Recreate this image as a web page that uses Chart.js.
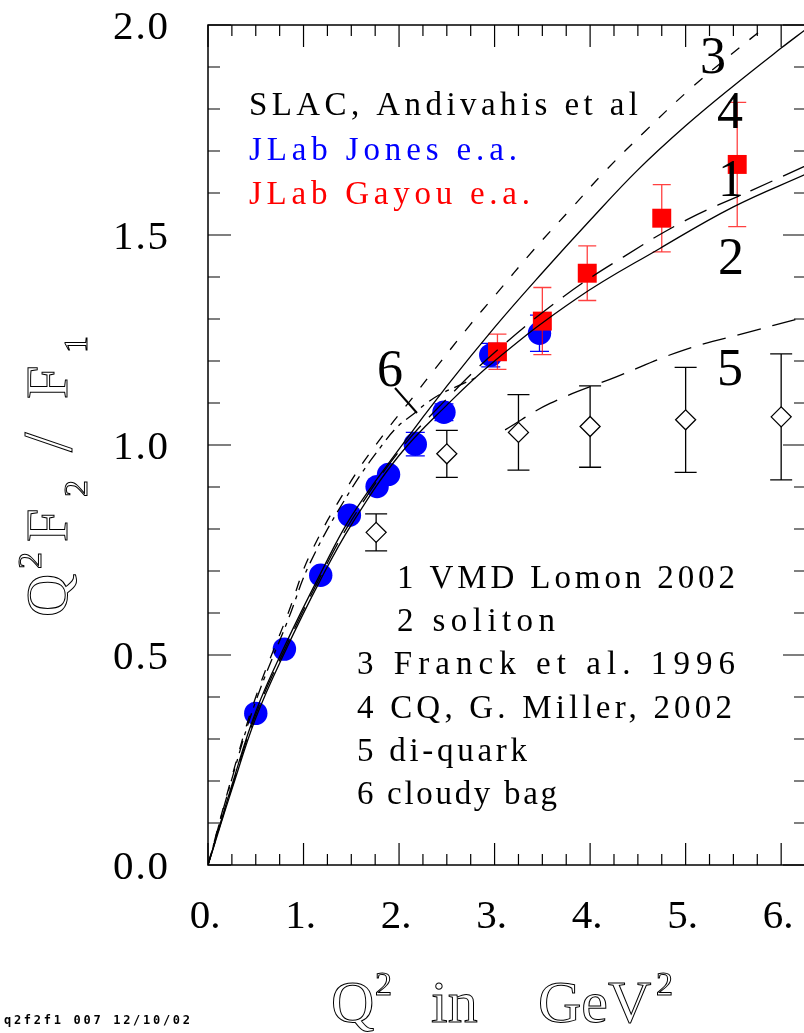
<!DOCTYPE html>
<html>
<head>
<meta charset="utf-8">
<script src="https://cdn.jsdelivr.net/npm/chart.js@4.4.1/dist/chart.umd.min.js"></script>
<style>
  html, body { margin: 0; padding: 0; background: #fff; overflow: hidden; }
  canvas { display: block; }
</style>
</head>
<body>
<canvas id="chart" width="810" height="1033"></canvas>
<script>
// SLAC, Andivahis et al (open diamonds)
const slacQ2 = [1.76, 2.50, 3.25, 4.00, 5.00, 6.00];
const slacVal = [0.792, 0.979, 1.030, 1.044, 1.060, 1.067];
const slacErr = [0.044, 0.056, 0.090, 0.097, 0.125, 0.150];

// JLab Jones e.a. (blue circles)
const jonesQ2 = [0.50, 0.80, 1.18, 1.48, 1.77, 1.89, 2.17, 2.47, 2.96, 3.47];
const jonesVal = [0.361, 0.514, 0.690, 0.833, 0.901, 0.930, 1.002, 1.078, 1.214, 1.266];
const jonesErr = [0.010, 0.010, 0.010, 0.012, 0.012, 0.012, 0.028, 0.020, 0.028, 0.043];

// JLab Gayou e.a. (red squares)
const gayouQ2 = [3.03, 3.50, 3.97, 4.75, 5.54];
const gayouVal = [1.222, 1.295, 1.409, 1.540, 1.668];
const gayouErr = [0.042, 0.080, 0.065, 0.080, 0.148];

// model curves
const vmdQ2 = [0, 0.25, 0.5, 0.8, 1.18, 1.5, 2.0, 2.5, 3.0, 3.72, 4.35, 5.01, 5.68, 6.26];
const vmdVal = [0, 0.185, 0.358, 0.512, 0.688, 0.82, 0.985, 1.11, 1.22, 1.353, 1.448, 1.536, 1.605, 1.665];
const solitonQ2 = [0, 0.25, 0.5, 0.8, 1.18, 1.5, 2.0, 2.5, 3.0, 3.86, 4.73, 5.5, 6.26];
const solitonVal = [0, 0.18, 0.35, 0.505, 0.68, 0.81, 0.975, 1.095, 1.2, 1.349, 1.468, 1.567, 1.645];
const franckQ2 = [0, 0.25, 0.5, 0.84, 1.07, 1.5, 1.87, 2.15, 2.32, 2.74, 3.0, 3.41, 3.79, 4.17, 4.59, 5.01, 5.45, 5.86];
const franckVal = [0, 0.21, 0.40, 0.60, 0.74, 0.915, 1.035, 1.115, 1.165, 1.285, 1.355, 1.465, 1.56, 1.655, 1.75, 1.84, 1.925, 2.0];
const millerQ2 = [0, 0.25, 0.5, 0.8, 1.18, 1.5, 2.0, 2.5, 3.0, 3.5, 4.0, 4.5, 5.0, 5.5, 6.0, 6.26];
const millerVal = [0, 0.19, 0.365, 0.52, 0.695, 0.83, 0.99, 1.14, 1.28, 1.41, 1.535, 1.655, 1.76, 1.855, 1.945, 1.99];
const diquarkQ2 = [3.11, 3.58, 4.28, 4.98, 5.68, 6.16, 6.26];
const diquarkVal = [1.036, 1.099, 1.163, 1.226, 1.270, 1.299, 1.304];
const bagQ2 = [0, 0.25, 0.5, 0.84, 1.07, 1.5, 1.84, 1.99, 2.13, 2.29, 2.44, 2.66, 2.85];
const bagVal = [0, 0.205, 0.39, 0.585, 0.72, 0.895, 1.005, 1.045, 1.07, 1.10, 1.122, 1.145, 1.165];

// axis ticks
const xTickLabels = ['0.', '1.', '2.', '3.', '4.', '5.', '6.'];
const yTickLabels = ['0.0', '0.5', '1.0', '1.5', '2.0'];

const legendLines = ['SLAC, Andivahis et al', 'JLab Jones e.a.', 'JLab Gayou e.a.'];
const modelLines = ['1 VMD Lomon 2002', '2 soliton', '3 Franck et al. 1996',
  '4 CQ, G. Miller, 2002', '5 di-quark', '6 cloudy bag'];

const SERIF = '"Liberation Serif", "DejaVu Serif", serif';

const toXY = (qs, vs) => qs.map((q, i) => ({ x: q, y: vs[i] }));

function curve(label, qs, vs, dash) {
  return {
    label, data: toXY(qs, vs), showLine: true, borderColor: '#000', borderWidth: 1.3,
    borderDash: dash, pointRadius: 0, fill: false, tension: 0.4
  };
}

// draw text stretched to a given width with letter spacing
function spaced(ctx, str, x, y, w, font, color) {
  ctx.font = font;
  ctx.letterSpacing = '0px';
  const nat = ctx.measureText(str).width;
  ctx.letterSpacing = ((w - nat) / Math.max(1, str.length - 1)) + 'px';
  ctx.fillStyle = color;
  ctx.textAlign = 'left';
  ctx.textBaseline = 'alphabetic';
  ctx.fillText(str, x, y);
  ctx.letterSpacing = '0px';
}

function hollow(ctx, str, x, y, size) {
  ctx.font = size + 'px ' + SERIF;
  ctx.lineWidth = 1;
  ctx.strokeStyle = '#000';
  ctx.strokeText(str, x, y);
}

const errorBars = {
  id: 'errorBars',
  beforeDatasetDraw(chart, args) {
    const ds = chart.data.datasets[args.index];
    if (!ds.err) return;
    const { ctx, scales: { x, y } } = chart;
    ctx.save();
    ctx.strokeStyle = ds.errColor;
    ctx.lineWidth = 1.3;
    ds.data.forEach((p, i) => {
      const px = x.getPixelForValue(p.x);
      const lo = y.getPixelForValue(p.y - ds.err[i]);
      const hi = y.getPixelForValue(p.y + ds.err[i]);
      ctx.beginPath();
      ctx.moveTo(px, lo); ctx.lineTo(px, hi);
      ctx.moveTo(px - ds.cap, lo); ctx.lineTo(px + ds.cap, lo);
      ctx.moveTo(px - ds.cap, hi); ctx.lineTo(px + ds.cap, hi);
      ctx.stroke();
    });
    ctx.restore();
  }
};

const frame = {
  id: 'frame',
  afterDraw(chart) {
    const { ctx, chartArea: a, scales: { x, y } } = chart;
    ctx.save();
    ctx.strokeStyle = '#000';
    ctx.lineWidth = 1.5;
    ctx.strokeRect(a.left, a.top, a.right - a.left, a.bottom - a.top);

    ctx.lineWidth = 1.2;
    ctx.beginPath();
    for (let i = 0; i <= 25; i++) {
      const px = x.getPixelForValue(i * 0.25);
      const len = i % 4 === 0 ? 22 : 11;
      ctx.moveTo(px, a.bottom); ctx.lineTo(px, a.bottom - len);
      ctx.moveTo(px, a.top); ctx.lineTo(px, a.top + len);
    }
    for (let i = 0; i <= 20; i++) {
      const py = y.getPixelForValue(i * 0.1);
      const len = i % 5 === 0 ? 23 : 12;
      ctx.moveTo(a.left, py); ctx.lineTo(a.left + len, py);
      ctx.moveTo(a.right, py); ctx.lineTo(a.right - len, py);
    }
    ctx.stroke();

    // tick labels
    ctx.fillStyle = '#000';
    ctx.font = '41px ' + SERIF;
    ctx.textBaseline = 'alphabetic';
    ctx.textAlign = 'center';
    xTickLabels.forEach((t, i) => ctx.fillText(t, x.getPixelForValue(i) - 3, a.bottom + 63));
    yTickLabels.forEach((t, i) => spaced(ctx, t, 113, y.getPixelForValue(i * 0.5) + 14, 55, '41px ' + SERIF, '#000'));

    // legend of data sets
    const lw = [389, 268, 281];
    const lc = ['#000', '#0000ff', '#ff0000'];
    legendLines.forEach((t, i) => spaced(ctx, t, 249, 115 + i * 44.5, lw[i], '33px ' + SERIF, lc[i]));

    // legend of models
    const mx = [397, 397, 357, 357, 357, 357];
    const mw = [338, 158, 378, 375, 170, 200];
    modelLines.forEach((t, i) => spaced(ctx, t, mx[i], 588 + i * 43.2, mw[i], '33px ' + SERIF, '#000'));

    // curve numbers
    ctx.font = '52px ' + SERIF;
    ctx.textAlign = 'center';
    [['3', 713, 55], ['4', 730, 110], ['1', 731, 178], ['2', 731, 256], ['5', 730, 367], ['6', 390, 368]]
      .forEach(([t, cx, cy]) => ctx.fillText(t, cx, cy + 17.5));
    ctx.lineWidth = 2;
    ctx.beginPath();
    ctx.moveTo(395, 388); ctx.lineTo(417, 413);
    ctx.stroke();

    // axis titles (outlined)
    ctx.textAlign = 'left';
    hollow(ctx, 'Q', 331, 1022, 60);
    hollow(ctx, '2', 375, 995, 34);
    hollow(ctx, 'in', 431, 1022, 60);
    hollow(ctx, 'GeV', 538, 1022, 60);
    hollow(ctx, '2', 656, 995, 34);

    ctx.save();
    ctx.translate(67, 617);
    ctx.rotate(-Math.PI / 2);
    hollow(ctx, 'Q', 0, 0, 60);
    hollow(ctx, '2', 48, -26, 34);
    hollow(ctx, 'F', 75, 0, 60);
    hollow(ctx, '2', 120, 20, 34);
    hollow(ctx, '/', 165, 4, 70);
    hollow(ctx, 'F', 218, 0, 60);
    hollow(ctx, '1', 264, 20, 34);
    ctx.restore();

    spaced(ctx, 'q2f2f1 007 12/10/02', 4, 1024, 186, 'bold 12px "DejaVu Sans Mono", monospace', '#000');
    ctx.restore();
  }
};

new Chart(document.getElementById('chart').getContext('2d'), {
  type: 'scatter',
  data: {
    datasets: [
      curve('1 VMD Lomon 2002', vmdQ2, vmdVal, [24, 12]),
      curve('2 soliton', solitonQ2, solitonVal, []),
      curve('3 Franck et al. 1996', franckQ2, franckVal, [11, 13]),
      curve('4 CQ, G. Miller, 2002', millerQ2, millerVal, []),
      curve('5 di-quark', diquarkQ2, diquarkVal, [24, 12]),
      curve('6 cloudy bag', bagQ2, bagVal, [13, 6, 4, 6]),
      {
        label: 'JLab Gayou e.a.', data: toXY(gayouQ2, gayouVal), err: gayouErr,
        errColor: 'rgba(255,0,0,0.75)', cap: 9,
        pointStyle: 'rect', pointRadius: 13.4, pointBackgroundColor: '#ff0000', pointBorderWidth: 0
      },
      {
        label: 'JLab Jones e.a.', data: toXY(jonesQ2, jonesVal), err: jonesErr,
        errColor: '#0000ff', cap: 9.5,
        pointStyle: 'circle', pointRadius: 11.7, pointBackgroundColor: '#0000ff', pointBorderWidth: 0
      },
      {
        label: 'SLAC, Andivahis et al', data: toXY(slacQ2, slacVal), err: slacErr,
        errColor: '#000', cap: 11,
        pointStyle: 'rectRot', pointRadius: 10, pointBackgroundColor: '#fff',
        pointBorderColor: '#000', pointBorderWidth: 1.3
      }
    ]
  },
  options: {
    responsive: false,
    animation: false,
    devicePixelRatio: 1,
    layout: { autoPadding: false, padding: { left: 208, top: 25, right: 4, bottom: 168 } },
    plugins: { legend: { display: false }, tooltip: { enabled: false } },
    scales: {
      x: { type: 'linear', min: 0, max: 6.26, display: false },
      y: { type: 'linear', min: 0, max: 2, display: false }
    }
  },
  plugins: [errorBars, frame]
});
</script>
</body>
</html>
